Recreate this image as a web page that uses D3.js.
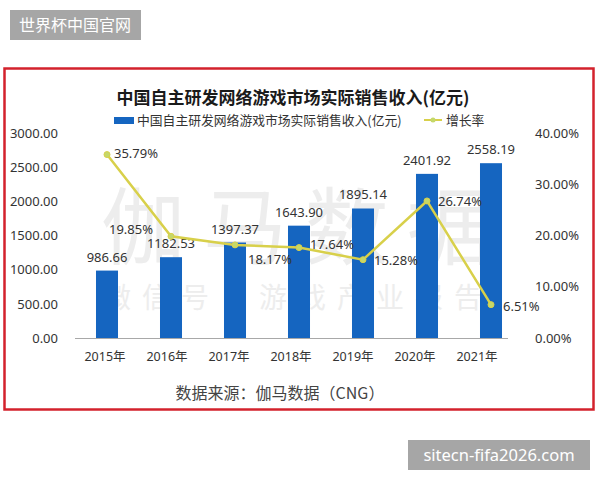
<!DOCTYPE html>
<html lang="zh">
<head>
  <meta charset="UTF-8">
  <title>中国自主研发网络游戏市场实际销售收入</title>
  <script src="https://cdnjs.cloudflare.com/ajax/libs/d3/7.8.5/d3.min.js"></script>
  <style>
    body { margin: 0; background: #fff; }
    text { font-family: "Noto Sans", "Noto Sans CJK SC", sans-serif; }
    .cjk { font-family: "Noto Sans CJK SC", sans-serif; }
  </style>
</head>
<body>
  <svg id="chart" width="600" height="480"></svg>
  <script>
    // 数据
    var years = ['2015年', '2016年', '2017年', '2018年', '2019年', '2020年', '2021年']
    var revenue = [986.66, 1182.53, 1397.37, 1643.90, 1895.14, 2401.92, 2558.19]
    var growth = [35.79, 19.85, 18.17, 17.64, 15.28, 26.74, 6.51]
    var leftTicks = [0, 500, 1000, 1500, 2000, 2500, 3000]
    var rightTicks = [0, 10, 20, 30, 40]

    var svg = d3.select('#chart')

    // 柱子位置和年份标签在原图里并不完全对齐，所以用两个 band scale
    var x = d3.scaleBand().domain(years).range([75, 523]).paddingInner(0.656).paddingOuter(0.328)
    var xLab = d3.scaleBand().domain(years).range([74, 508])
    var yL = d3.scaleLinear().domain([0, 3000]).range([338, 133])
    var yR = d3.scaleLinear().domain([0, 40]).range([338, 133])

    // 水印
    svg.append('text').attr('class', 'cjk')
      .attr('x', 305).attr('y', 258)
      .attr('text-anchor', 'middle')
      .attr('font-size', 84).attr('letter-spacing', 18)
      .attr('fill', '#ededed')
      .text('伽马数据')
    svg.append('text').attr('class', 'cjk')
      .attr('x', 298).attr('y', 308)
      .attr('text-anchor', 'middle')
      .attr('font-size', 28).attr('letter-spacing', 11)
      .attr('fill', '#ededed')
      .text('微信号：游戏产业报告')

    // 红框
    svg.append('rect')
      .attr('x', 4.5).attr('y', 68.5).attr('width', 589).attr('height', 341)
      .attr('fill', 'none').attr('stroke', '#d3222c').attr('stroke-width', 2.5)

    // 标题
    svg.append('text').attr('class', 'cjk')
      .attr('x', 293).attr('y', 104)
      .attr('text-anchor', 'middle')
      .attr('font-size', 17).attr('font-weight', 'bold')
      .attr('fill', '#1a1a1a')
      .text('中国自主研发网络游戏市场实际销售收入(亿元)')

    // 图例
    svg.append('rect').attr('x', 114).attr('y', 117).attr('width', 20).attr('height', 7).attr('fill', '#1565c0')
    svg.append('text').attr('class', 'cjk')
      .attr('x', 137).attr('y', 125).attr('font-size', 12.8).attr('fill', '#333')
      .text('中国自主研发网络游戏市场实际销售收入(亿元)')
    svg.append('line').attr('x1', 424).attr('x2', 442).attr('y1', 120).attr('y2', 120)
      .attr('stroke', '#d8d04a').attr('stroke-width', 2)
    svg.append('circle').attr('cx', 433).attr('cy', 120).attr('r', 2.5).attr('fill', '#c5d86a')
    svg.append('text').attr('class', 'cjk')
      .attr('x', 446).attr('y', 125).attr('font-size', 12.8).attr('fill', '#333')
      .text('增长率')

    // 左轴
    var axL = svg.append('g').attr('transform', 'translate(58,0)')
      .call(d3.axisLeft(yL).tickValues(leftTicks).tickSize(0).tickPadding(0).tickFormat(d3.format('.2f')))
    axL.select('.domain').remove()
    axL.selectAll('text').attr('font-size', 13).attr('fill', '#333').attr('font-family', '"Noto Sans", sans-serif')

    // 右轴
    var axR = svg.append('g').attr('transform', 'translate(535,0)')
      .call(d3.axisRight(yR).tickValues(rightTicks).tickSize(0).tickPadding(0).tickFormat(d => d.toFixed(2) + '%'))
    axR.select('.domain').remove()
    axR.selectAll('text').attr('font-size', 13).attr('fill', '#333').attr('font-family', '"Noto Sans", sans-serif')

    // 柱
    svg.selectAll('.bar').data(revenue).enter().append('rect')
      .attr('class', 'bar')
      .attr('x', (d, i) => x(years[i]))
      .attr('y', d => yL(d))
      .attr('width', x.bandwidth())
      .attr('height', d => yL(0) - yL(d))
      .attr('fill', '#1565c0')

    // 底线
    svg.append('line').attr('x1', 75).attr('x2', 508).attr('y1', 338.5).attr('y2', 338.5)
      .attr('stroke', '#a8a8a8').attr('stroke-width', 1)

    // x 轴标签
    var axX = svg.append('g').attr('transform', 'translate(0,338)')
      .call(d3.axisBottom(xLab).tickSize(0).tickPadding(14))
    axX.select('.domain').remove()
    axX.selectAll('text').attr('font-size', 12.5).attr('fill', '#333')
      .attr('font-family', '"Noto Sans", "Noto Sans CJK SC", sans-serif')

    // 柱值
    svg.selectAll('.val').data(revenue).enter().append('text')
      .attr('x', (d, i) => x(years[i]) + x.bandwidth() / 2)
      .attr('y', d => yL(d) - 9)
      .attr('text-anchor', 'middle')
      .attr('font-size', 13).attr('fill', '#333')
      .text(d => d.toFixed(2))

    // 增长率折线
    var cx = (d, i) => x(years[i]) + x.bandwidth() / 2
    var line = d3.line().x(cx).y(d => yR(d))
    svg.append('path').datum(growth)
      .attr('d', line).attr('fill', 'none')
      .attr('stroke', '#d8d04a').attr('stroke-width', 2.5)
    svg.selectAll('.pt').data(growth).enter().append('circle')
      .attr('cx', cx).attr('cy', d => yR(d)).attr('r', 3)
      .attr('fill', '#c5d86a').attr('stroke', '#d8d04a').attr('stroke-width', 1)

    // 标签偏移（第二个在点左上，第三个在右下）
    var dx = [7, -18, 13, 11, 11, 11, 12]
    var dy = [3, -2, 19, 1, 5, 5, 6]
    svg.selectAll('.rate').data(growth).enter().append('text')
      .attr('x', (d, i) => cx(d, i) + dx[i])
      .attr('y', (d, i) => yR(d) + dy[i])
      .attr('text-anchor', (d, i) => dx[i] < 0 ? 'end' : 'start')
      .attr('font-size', 13).attr('fill', '#333')
      .text(d => d.toFixed(2) + '%')

    // 数据来源
    svg.append('text').attr('class', 'cjk')
      .attr('x', 280).attr('y', 399)
      .attr('text-anchor', 'middle')
      .attr('font-size', 16).attr('fill', '#444')
      .text('数据来源：伽马数据（CNG）')

    // 角标
    svg.append('rect').attr('x', 10).attr('y', 10).attr('width', 131).attr('height', 30).attr('fill', '#a6a6a6')
    svg.append('text').attr('class', 'cjk')
      .attr('x', 75).attr('y', 31).attr('text-anchor', 'middle')
      .attr('font-size', 16).attr('fill', '#fff')
      .text('世界杯中国官网')
    svg.append('rect').attr('x', 408).attr('y', 440).attr('width', 182).attr('height', 30).attr('fill', '#a6a6a6')
    svg.append('text')
      .attr('x', 499).attr('y', 461).attr('text-anchor', 'middle')
      .attr('font-size', 16.5).attr('fill', '#fff')
      .attr('font-family', '"DejaVu Sans", sans-serif')
      .text('sitecn-fifa2026.com')
  </script>
</body>
</html>
